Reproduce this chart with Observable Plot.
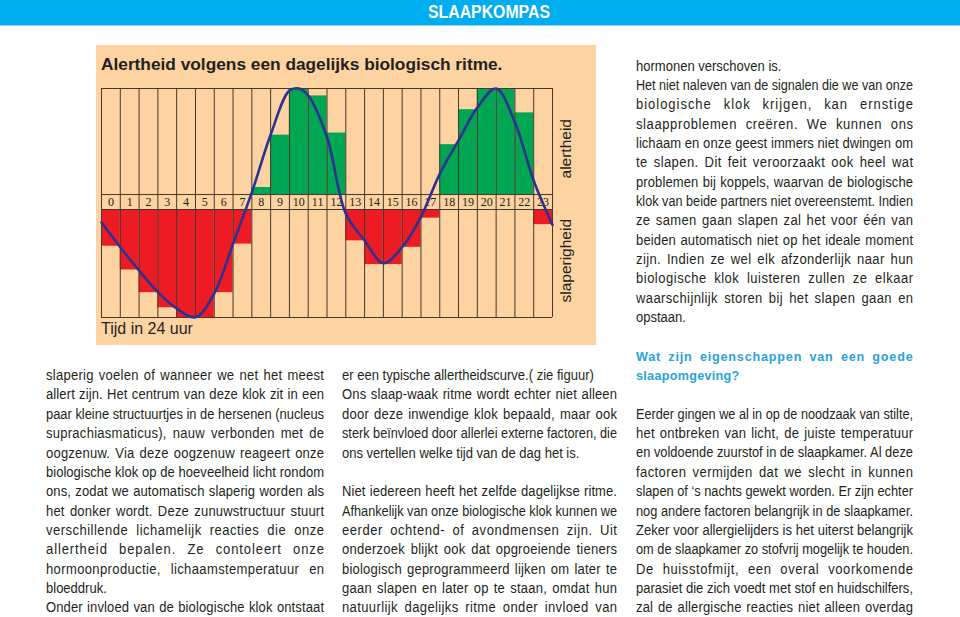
<!DOCTYPE html>
<html>
<head>
<meta charset="utf-8">
<script src="https://cdn.jsdelivr.net/npm/d3@7"></script>
<script src="https://cdn.jsdelivr.net/npm/@observablehq/plot@0.6"></script>
<style>
  html, body { margin: 0; padding: 0; }
  body { width: 960px; height: 617px; overflow: hidden; background: #fff; position: relative;
         font-family: "Liberation Sans", Arial, Helvetica, sans-serif; color: #231f20; }
  .abs { position: absolute; white-space: pre; }
  #header { position: absolute; left: 0; top: 0; width: 960px; height: 25px; background: #00AEEF;
            border-bottom: 1px solid #8fd6f4; }
  #chart { position: absolute; left: 96px; top: 45px; width: 500px; height: 300px; }
</style>
</head>
<body>
<div id="header"></div>
<div id="chart"></div>
<script>
// ---------------- data ----------------
const hourLabels = ["0","1","2","3","4","5","6","7","8","9","10","11","12","13","14","15","16","17","18","19","20","21","22","23"];
// alertness (green bars, 0..1 of the upper band)
const alertness  = [0,0,0,0,0,0,0,0,0.066,0.56,1.0,0.93,0.58,0,0,0,0,0,0.47,0.80,1.0,1.0,0.77,0];
// sleepiness (red bars, 0..1 of the lower band)
const sleepiness = [0.34,0.56,0.77,0.91,1.0,1.0,0.77,0.32,0,0,0,0,0,0.29,0.51,0.51,0.35,0.08,0,0,0,0,0,0.14];
// rhythm curve
const curveHours  = [0,1,2,3,4,5,6,7,8,9,10,10.5,11,12,13,14,15,16,17,18,19,20,21,22,23,24];
const curveValues = [-0.264,-0.497,-0.717,-0.92,-1.075,-1.157,-0.934,-0.465,0.02,0.563,0.98,1.0,0.934,0.54,-0.18,-0.434,-0.648,-0.497,-0.21,0.195,0.51,0.82,1.0,0.68,0.13,-0.286];

const chartTitle = "Alertheid volgens een dagelijks biologisch ritme.";
const xLabel = "Tijd in 24 uur";
const upperLabel = "alertheid";
const lowerLabel = "slaperigheid";

// ---------------- chart ----------------
const GAP = 0.1415;   // height of the hour-label band (in y units)
const YMIN = -1.16;
const bars = hourLabels.map((label, h) => ({h, label, a: alertness[h], s: sleepiness[h]}));
const curve = curveHours.map((t, i) => ({t, v: curveValues[i]}));
const gridColor = "#45382c";

const plot = Plot.plot({
  width: 500, height: 300,
  marginLeft: 5, marginRight: 44, marginTop: 43, marginBottom: 28,
  x: {domain: [0, 24], axis: null},
  y: {domain: [YMIN, 1], axis: null},
  style: {background: "#FCD3A1", overflow: "visible"},
  marks: [
    Plot.rect(bars.filter(d => d.a > 0), {x1: d => d.h, x2: d => d.h + 1, y1: 0, y2: d => d.a, fill: "#00A651"}),
    Plot.rect(bars.filter(d => d.s > 0), {x1: d => d.h, x2: d => d.h + 1, y1: -GAP, y2: d => -GAP - d.s * (-YMIN - GAP), fill: "#ED1C24"}),
    Plot.ruleX(d3.range(25), {y1: YMIN, y2: 1, stroke: gridColor, strokeWidth: 1}),
    Plot.ruleY([1, 0, -GAP, YMIN], {x1: 0, x2: 24, stroke: gridColor, strokeWidth: 1}),
    Plot.text(bars, {x: d => d.h + 0.5, y: -GAP / 2, text: "label", fontFamily: "Liberation Serif, Times New Roman, serif", fontSize: 12, fill: "#231f20"}),
    Plot.line(curve, {x: "t", y: "v", curve: "catmull-rom", stroke: "#2E3192", strokeWidth: 2.6})
  ]
});
document.getElementById("chart").appendChild(plot);

// ---------------- text helpers ----------------
const ASC = 0.905, DESC = 0.212;
function place(text, x, baseline, opts = {}) {
  const fs = opts.size || 14;
  const k = opts.k || 1;            // horizontal condensing of the typeface
  const el = document.createElement("div");
  el.className = "abs";
  el.textContent = text;
  el.style.fontSize = fs + "px";
  el.style.lineHeight = fs + "px";
  el.style.fontWeight = opts.bold ? "bold" : "normal";
  el.style.color = opts.color || "#231f20";
  if (opts.ls) el.style.letterSpacing = opts.ls + "px";
  const top = baseline - ((fs - (ASC + DESC) * fs) / 2 + ASC * fs);
  el.style.left = x + "px";
  el.style.top = top + "px";
  el.style.transformOrigin = "0 0";
  document.body.appendChild(el);
  const w = el.getBoundingClientRect().width;
  let scale = k;
  if (opts.width) {
    const W = opts.width;
    if (w * k > W) {
      scale = W / w;
    } else if (opts.justify) {
      const extra = W / k - w;
      const n = text.length;
      const spaces = (text.match(/ /g) || []).length;
      const ls0 = opts.ls || 0;
      let ls = ls0 + extra * 0.55 / (n - 1);
      const ws = spaces ? extra * 0.45 / spaces : 0;
      el.style.letterSpacing = ls + "px";
      el.style.wordSpacing = ws + "px";
      const w2 = el.getBoundingClientRect().width - ls;
      if (Math.abs(w2 - W / k) > 0.3) {
        ls = ls + (W / k - w2) / (n - 1);
        el.style.letterSpacing = ls + "px";
      }
    }
  }
  if (scale !== 1) el.style.transform = `scaleX(${scale})`;
  return el;
}

// header
(function () {
  const el = place("SLAAPKOMPAS", 0, 18.5, {size: 18, bold: true, color: "#ffffff"});
  const w = el.getBoundingClientRect().width;
  const target = 122;
  el.style.transform = `scaleX(${target / w})`;
  el.style.left = (489 - target / 2) + "px";
})();

// chart texts
place(chartTitle, 101, 71, {size: 17.3, bold: true});
place(xLabel, 101, 335, {size: 16});
function vlabel(text, cx, cy, size) {
  const el = document.createElement("div");
  el.className = "abs";
  el.textContent = text;
  el.style.fontSize = size + "px";
  el.style.lineHeight = size + "px";
  el.style.color = "#231f20";
  document.body.appendChild(el);
  const r = el.getBoundingClientRect();
  el.style.left = (cx - r.width / 2) + "px";
  el.style.top = (cy - r.height / 2) + "px";
  el.style.transform = "rotate(-90deg)";
  el.style.transformOrigin = "50% 50%";
}
vlabel(upperLabel, 566, 149, 15.5);
vlabel(lowerLabel, 566, 260.5, 15.5);

// ---------------- body text ----------------
const LH = 19.35;
const BODY = {size: 14, k: 0.93};
function column(lines, x, firstBaseline, width) {
  lines.forEach((l, i) => {
    if (!l) return;
    const [text, mode, style] = l;
    const o = Object.assign({width, justify: mode === "j"}, BODY, style || {});
    place(text, x, firstBaseline + i * LH, o);
  });
}
const J = "j", L = "l";
const col3top = [
  ["hormonen verschoven is.", L],
  ["Het niet naleven van de signalen die we van onze", J],
  ["biologische klok krijgen, kan ernstige", J],
  ["slaapproblemen creëren. We kunnen ons", J],
  ["lichaam en onze geest immers niet dwingen om", J],
  ["te slapen. Dit feit veroorzaakt ook heel wat", J],
  ["problemen bij koppels, waarvan de biologische", J],
  ["klok van beide partners niet overeenstemt. Indien", J],
  ["ze samen gaan slapen zal het voor één van", J],
  ["beiden automatisch niet op het ideale moment", J],
  ["zijn. Indien ze wel elk afzonderlijk naar hun", J],
  ["biologische klok luisteren zullen ze elkaar", J],
  ["waarschijnlijk storen bij het slapen gaan en", J],
  ["opstaan.", L]
];
const col1 = [
  ["slaperig voelen of wanneer we net het meest", J],
  ["allert zijn. Het centrum van deze klok zit in een", J],
  ["paar kleine structuurtjes in de hersenen (nucleus", J],
  ["suprachiasmaticus), nauw verbonden met de", J],
  ["oogzenuw. Via deze oogzenuw reageert onze", J],
  ["biologische klok op de hoeveelheid licht rondom", J],
  ["ons, zodat we automatisch slaperig worden als", J],
  ["het donker wordt. Deze zunuwstructuur stuurt", J],
  ["verschillende lichamelijk reacties die onze", J],
  ["allertheid bepalen. Ze contoleert onze", J],
  ["hormoonproductie, lichaamstemperatuur en", J],
  ["bloeddruk.", L],
  ["Onder invloed van de biologische klok ontstaat", J]
];
const col2 = [
  ["er een typische allertheidscurve.( zie figuur)", L],
  ["Ons slaap-waak ritme wordt echter niet alleen", J],
  ["door deze inwendige klok bepaald, maar ook", J],
  ["sterk beïnvloed door allerlei externe factoren, die", J],
  ["ons vertellen welke tijd van de dag het is.", L],
  null,
  ["Niet iedereen heeft het zelfde dagelijkse ritme.", J],
  ["Afhankelijk van onze biologische klok kunnen we", J],
  ["eerder ochtend- of avondmensen zijn. Uit", J],
  ["onderzoek blijkt ook dat opgroeiende tieners", J],
  ["biologisch geprogrammeerd lijken om later te", J],
  ["gaan slapen en later op te staan, omdat hun", J],
  ["natuurlijk dagelijks ritme onder invloed van", J]
];
const headStyle = {bold: true, color: "#29A3DB", size: 13, k: 0.97, ls: 0.3};
const col3bottom = [
  ["Wat zijn eigenschappen van een goede", J, headStyle],
  ["slaapomgeving?", L, headStyle],
  null,
  ["Eerder gingen we al in op de noodzaak van stilte,", J],
  ["het ontbreken van licht, de juiste temperatuur", J],
  ["en voldoende zuurstof in de slaapkamer. Al deze", J],
  ["factoren vermijden dat we slecht in kunnen", J],
  ["slapen of \u2018s nachts gewekt worden. Er zijn echter", J],
  ["nog andere factoren belangrijk in de slaapkamer.", J],
  ["Zeker voor allergielijders is het uiterst belangrijk", J],
  ["om de slaapkamer zo stofvrij mogelijk te houden.", J],
  ["De huisstofmijt, een overal voorkomende", J],
  ["parasiet die zich voedt met stof en huidschilfers,", J],
  ["zal de allergische reacties niet alleen overdag", J]
];
column(col3top, 636, 70.5, 277);
column(col1, 46, 380, 278);
column(col2, 342, 380, 275);
column(col3bottom, 636, 360.6, 277);
</script>
</body>
</html>
